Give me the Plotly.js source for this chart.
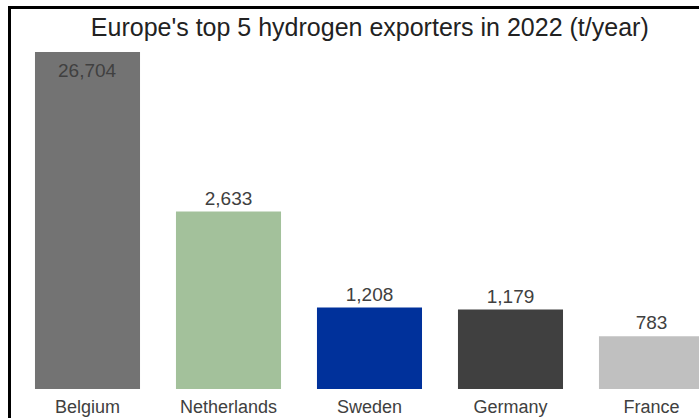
<!DOCTYPE html>
<html>
<head>
<meta charset="utf-8">
<script src="https://cdn.plot.ly/plotly-3.0.1.min.js"></script>
<style>
html,body{margin:0;padding:0;background:#fff;}
#wrap{position:relative;width:699px;height:418px;overflow:hidden;}
#chart{position:absolute;left:0;top:0;width:699px;height:418px;}
#frame{position:absolute;left:8px;top:6px;width:800px;height:500px;border-left:3px solid #000;border-top:3px solid #000;pointer-events:none;}
</style>
</head>
<body>
<div id="wrap"><div id="chart"></div><div id="frame"></div></div>
<script>
var countries = ["Belgium", "Netherlands", "Sweden", "Germany", "France"];
var exports_t = [26704, 2633, 1208, 1179, 783];
var barColors = ["#737373", "#a3c19b", "#00319b", "#404040", "#c0c0c0"];
var labelPositions = ["none", "outside", "outside", "outside", "outside"];
var yMax = 5000;
var titleText = "Europe's top 5 hydrogen exporters in 2022 (t/year)";

var fontFam = "Liberation Sans, Arial, sans-serif";
var labelFont = {family: fontFam, size: 19, color: "#404040"};

function fmt(v){ return v.toLocaleString("en-US"); }

var trace = {
  type: "bar",
  x: countries,
  y: exports_t,
  marker: {color: barColors, line: {width: 0}},
  text: exports_t.map(fmt),
  textposition: labelPositions,
  textfont: labelFont,
  outsidetextfont: labelFont,
  hoverinfo: "x+y"
};

// the first bar runs past the top of the axis, so its value sits inside the bar top
var annotations = [];
exports_t.forEach(function(v, i){
  if (v > yMax) {
    annotations.push({
      x: countries[i], y: yMax, xref: "x", yref: "y",
      text: fmt(v), showarrow: false,
      xanchor: "center", yanchor: "top", yshift: -6,
      font: labelFont
    });
  }
});

var layout = {
  width: 699, height: 418,
  margin: {l: 17, r: 0, t: 52, b: 29, pad: 0},
  paper_bgcolor: "#ffffff",
  plot_bgcolor: "#ffffff",
  showlegend: false,
  bargap: 0.255,
  annotations: annotations,
  title: {
    text: titleText,
    font: {family: fontFam, size: 25, color: "#222222"},
    x: 0.529, xref: "container", xanchor: "center",
    y: 0.935, yref: "container", yanchor: "middle"
  },
  xaxis: {
    range: [-0.5, 4.337],
    fixedrange: true,
    showgrid: false, zeroline: false, showline: false,
    ticks: "",
    ticklabelstandoff: 5,
    tickfont: {family: fontFam, size: 18, color: "#404040"}
  },
  yaxis: {
    range: [0, yMax],
    tick0: 0, dtick: yMax,
    showticklabels: false,
    showgrid: true, gridcolor: "#f1f1f1",
    zeroline: false, showline: false, ticks: ""
  }
};

Plotly.newPlot("chart", [trace], layout, {displayModeBar: false, staticPlot: true});
</script>
</body>
</html>
